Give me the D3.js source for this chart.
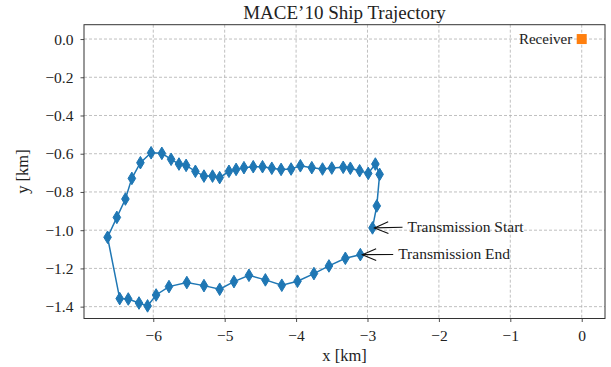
<!DOCTYPE html>
<html>
<head>
<meta charset="utf-8">
<script src="https://cdn.jsdelivr.net/npm/d3@7"></script>
<style>
  body { margin: 0; background: #fff; }
  svg text { font-family: "Liberation Serif", "DejaVu Serif", serif; fill: #222; }
</style>
</head>
<body>
<svg id="chart"></svg>
<script>
// trajectory, in order: from transmission start round to transmission end
var trackX = [-2.93, -2.87, -2.83, -2.89, -2.99, -3.11, -3.24, -3.34, -3.50, -3.63, -3.78, -3.94,
              -4.07, -4.21, -4.34, -4.47, -4.60, -4.73, -4.84, -4.94, -5.07, -5.17, -5.29, -5.41,
              -5.54, -5.64, -5.75, -5.88, -6.03, -6.18, -6.30, -6.39, -6.51, -6.64,
              -6.47, -6.35, -6.20, -6.08, -5.96, -5.78, -5.53, -5.29, -5.07, -4.87, -4.66,
              -4.43, -4.20, -3.98, -3.75, -3.54, -3.31, -3.10];
var trackY = [-0.988, -0.873, -0.708, -0.654, -0.703, -0.689, -0.676, -0.671, -0.675, -0.680, -0.673, -0.663,
              -0.680, -0.682, -0.676, -0.668, -0.668, -0.673, -0.682, -0.692, -0.725, -0.717, -0.717, -0.692,
              -0.661, -0.654, -0.629, -0.598, -0.595, -0.647, -0.729, -0.837, -0.933, -1.037,
              -1.358, -1.360, -1.381, -1.396, -1.339, -1.295, -1.274, -1.290, -1.309, -1.269, -1.236,
              -1.260, -1.288, -1.267, -1.227, -1.187, -1.147, -1.128];
var receiver = {x: 0, y: 0, label: 'Receiver'};
var notes = [
  {label: 'Transmission Start', px: -2.93, py: -0.988, tx: -2.44, ty: -0.985},
  {label: 'Transmission End',   px: -3.10, py: -1.128, tx: -2.57, ty: -1.127}
];
var xTicks = [-6, -5, -4, -3, -2, -1, 0];
var yTicks = [0.0, -0.2, -0.4, -0.6, -0.8, -1.0, -1.2, -1.4];

var W = 611, H = 367;
var margin = {top: 24.7, right: 6, bottom: 48.5, left: 84};
var width = W - margin.left - margin.right;
var height = H - margin.top - margin.bottom;
var serif = '"Liberation Serif", "DejaVu Serif", serif';

var svg = d3.select('#chart').attr('width', W).attr('height', H);
var g = svg.append('g').attr('transform', `translate(${margin.left},${margin.top})`);

var x = d3.scaleLinear().domain([-6.97, 0.326]).range([0, width]);
var y = d3.scaleLinear().domain([-1.462, 0.075]).range([height, 0]);

// grid
g.append('g').selectAll('line').data(xTicks).enter().append('line')
  .attr('x1', d => x(d)).attr('x2', d => x(d)).attr('y1', 0).attr('y2', height)
  .attr('stroke', '#b0b0b0').attr('stroke-width', 0.8).attr('stroke-dasharray', '3,2');
g.append('g').selectAll('line').data(yTicks).enter().append('line')
  .attr('y1', d => y(d)).attr('y2', d => y(d)).attr('x1', 0).attr('x2', width)
  .attr('stroke', '#b0b0b0').attr('stroke-width', 0.8).attr('stroke-dasharray', '3,2');

// axes
var xAxis = g.append('g').attr('transform', `translate(0,${height})`)
  .call(d3.axisBottom(x).tickValues(xTicks).tickFormat(d3.format('d')).tickSize(3.5).tickPadding(5));
var yAxis = g.append('g')
  .call(d3.axisLeft(y).tickValues(yTicks).tickFormat(d3.format('.1f')).tickSize(3.5).tickPadding(7));
[xAxis, yAxis].forEach(function (a) {
  a.attr('font-family', serif);
  a.select('.domain').remove();
  a.selectAll('line').attr('stroke', '#222').attr('stroke-width', 0.8);
  a.selectAll('text').style('font-family', serif).style('font-size', '15.5px').attr('fill', '#222');
});
xAxis.selectAll('text').attr('dy', '0.9em');

// frame
g.append('rect').attr('width', width).attr('height', height)
  .attr('fill', 'none').attr('stroke', '#333').attr('stroke-width', 1);

// trajectory
var pts = trackX.map((v, i) => [v, trackY[i]]);
g.append('path').datum(pts)
  .attr('d', d3.line().x(d => x(d[0])).y(d => y(d[1])))
  .attr('fill', 'none').attr('stroke', '#1f77b4').attr('stroke-width', 1.5);
g.selectAll('.pt').data(pts).enter().append('path')
  .attr('class', 'pt')
  .attr('transform', d => `translate(${x(d[0])},${y(d[1])})`)
  .attr('d', 'M0,-6.3L3.8,0L0,6.3L-3.8,0Z')
  .attr('fill', '#1f77b4').attr('stroke', '#1f77b4').attr('stroke-width', 1);

// receiver
g.append('rect')
  .attr('x', x(receiver.x) - 5).attr('y', y(receiver.y) - 5)
  .attr('width', 10).attr('height', 10).attr('fill', '#ff7f0e');
g.append('text')
  .attr('x', x(receiver.x) - 9.5).attr('y', y(receiver.y))
  .attr('dy', '0.32em').attr('text-anchor', 'end')
  .style('font-size', '15px').text(receiver.label);

// annotations
notes.forEach(function (n) {
  var hx = x(n.px) + 2, hy = y(n.py);
  var tx = x(n.tx) - 5, ty = y(n.ty);
  var ang = Math.atan2(ty - hy, tx - hx);
  var L = 15, a = 0.4;
  g.append('line').attr('x1', tx).attr('y1', ty).attr('x2', hx).attr('y2', hy)
    .attr('stroke', '#111').attr('stroke-width', 1.1);
  g.append('path')
    .attr('d', `M${hx + L * Math.cos(ang + a)},${hy + L * Math.sin(ang + a)}L${hx},${hy}L${hx + L * Math.cos(ang - a)},${hy + L * Math.sin(ang - a)}`)
    .attr('fill', 'none').attr('stroke', '#111').attr('stroke-width', 1.1);
  g.append('text').attr('x', x(n.tx)).attr('y', y(n.ty)).attr('dy', '0.32em')
    .style('font-size', '15.5px').text(n.label);
});

// labels
svg.append('text').attr('x', margin.left + width / 2).attr('y', 19)
  .attr('text-anchor', 'middle').style('font-size', '19px').text('MACE\u201910 Ship Trajectory');
svg.append('text').attr('x', margin.left + width / 2).attr('y', 361)
  .attr('text-anchor', 'middle').style('font-size', '16.5px').text('x [km]');
svg.append('text').attr('transform', `translate(28,${margin.top + height / 2}) rotate(-90)`)
  .attr('text-anchor', 'middle').style('font-size', '16.5px').text('y [km]');
</script>
</body>
</html>
